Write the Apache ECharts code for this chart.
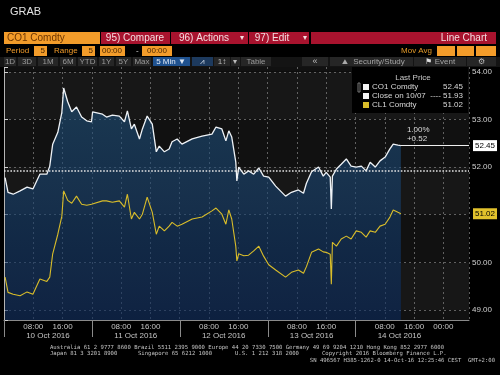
<!DOCTYPE html>
<html><head><meta charset="utf-8">
<script src="https://cdn.jsdelivr.net/npm/echarts@6/dist/echarts.min.js"></script>
<style>html,body{margin:0;padding:0;background:#000;}#c{width:500px;height:375px;}</style>
</head><body><div id="c"></div>
<script>
// hours since 10 Oct 2016 00:00 (CEST)
const hours = [0.3,1.1,2.5,4.4,6.3,7.9,9.8,11.7,12.5,13.3,
  14.7,15.8,16.3,17.4,18.5,19.8,21.2,22.6,23.9,24.2,
  26.9,28.0,29.6,31.5,32.9,33.7,34.8,35.6,37.0,37.8,
  39.1,40.5,41.6,42.4,43.8,45.1,45.9,47.3,48.6,51.4,
  54.1,56.8,57.9,59.5,60.6,61.4,62.2,63.3,63.6,64.1,
  65.5,66.8,68.2,69.6,70.9,72.3,74.2,76.9,78.5,80.4,
  81.8,82.6,84.0,85.9,87.2,88.0,89.1,89.4,89.7,90.8,
  92.1,93.5,94.8,96.2,97.6,98.9,100.0,101.4,102.7,104.1,
  105.4,106.3,107.6,108.4];
// CO1 Comdty (Brent)
const brent = [51.78,51.47,51.43,51.50,51.58,51.54,51.85,51.85,52.02,52.48,
  52.73,53.15,53.66,53.37,53.16,53.26,53.05,52.97,52.95,53.16,
  53.11,53.05,53.09,53.07,52.95,53.18,52.80,52.90,52.59,52.80,
  53.07,52.90,52.32,52.44,52.32,52.38,52.53,52.59,52.48,52.59,
  52.65,52.69,52.84,52.80,52.55,52.76,52.63,52.11,51.71,52.00,
  51.85,51.92,51.85,51.98,51.81,51.79,51.60,51.39,51.47,51.52,
  51.45,51.66,51.90,52.00,51.81,51.89,51.79,51.12,51.81,51.96,
  52.06,52.17,52.02,52.00,52.02,51.92,52.10,52.00,52.13,52.21,
  52.38,52.48,52.46,52.45];
// CL1 Comdty (WTI)
const wti = [49.69,49.37,49.33,49.30,49.38,49.33,49.65,49.60,49.69,50.18,
  50.59,50.97,51.50,51.30,51.24,51.39,51.22,51.20,51.22,51.24,
  51.29,51.29,51.26,51.29,51.16,51.43,50.91,51.05,50.91,51.01,
  51.37,51.05,50.59,50.76,50.66,50.76,50.84,50.76,50.80,50.91,
  50.95,51.08,51.14,51.01,50.80,51.10,50.91,50.34,50.03,50.18,
  50.14,50.15,50.24,50.34,50.13,49.95,49.84,49.69,49.79,49.84,
  49.77,49.91,50.21,50.28,50.22,50.21,50.17,49.54,50.42,50.34,
  50.49,50.55,50.49,50.66,50.63,50.53,50.66,50.63,50.76,50.80,
  50.95,51.10,51.05,51.02];
const prevClose = 51.93;
const prevCloseLabel = 'Close on 10/07';
const dayStarts = [0,24,48,72,96];
const dayLabels = ['10 Oct 2016','11 Oct 2016','12 Oct 2016','13 Oct 2016','14 Oct 2016'];
const hourLabels = {8:'08:00',16:'16:00'};
const endLabelHour = 120, endLabel = '00:00';
const xMin = 0, xMax = 127, yMin = 48.79, yMax = 54.1;

const lastH = hours[hours.length-1];
const lastB = brent[brent.length-1];
const lastW = wti[wti.length-1];
const chg = lastB - prevClose;
const pct = (chg/prevClose*100).toFixed(2)+'%';
const chgTxt = (chg>=0?'+':'')+chg.toFixed(2);

const FONT = '"Liberation Sans", Arial, sans-serif';
const ORANGE = '#f39c2a', RED = '#a8132e';
const NONE = 'rgba(0,0,0,0)';
const GRID = '#7c7c7c';
const els = [];
function rect(x,y,w,h,fill){els.push({type:'rect',z:100,silent:true,shape:{x:x,y:y,width:w,height:h},style:{fill:fill}});}
function txt(x,y,t,o){o=o||{};els.push({type:'text',z:101,silent:true,x:x,y:y,style:{text:t,fill:o.fill||'#c8c8c8',font:(o.size||8)+'px '+(o.family||FONT),textAlign:o.align||'left',textVerticalAlign:'middle'}});}

// header
txt(10,12,'GRAB',{size:11,fill:'#e2e2e2'});
rect(4,32,96,12,ORANGE); txt(7,38,'CO1 Comdty',{size:10,fill:'#6e3600'});
rect(101,32,69,12,RED); txt(135,38,'95) Compare',{size:10,fill:'#f3dde0',align:'center'});
rect(171,32,77,12,RED); txt(204,38,'96) Actions',{size:10,fill:'#f3dde0',align:'center'}); txt(240,38,'▾',{size:8,fill:'#f3dde0'});
rect(249,32,60,12,RED); txt(272,38,'97) Edit',{size:10,fill:'#f3dde0',align:'center'}); txt(303,38,'▾',{size:8,fill:'#f3dde0'});
rect(311,32,185,12,RED); txt(487,38,'Line Chart',{size:10,fill:'#f3dde0',align:'right'});
// row 2
txt(6,51,'Period',{fill:ORANGE}); rect(34,46,13,10,ORANGE); txt(45,51,'5',{fill:'#4a2600',align:'right'});
txt(54,51,'Range',{fill:ORANGE}); rect(82,46,13,10,ORANGE); txt(93,51,'5',{fill:'#4a2600',align:'right'});
rect(100,46,25,10,ORANGE); txt(112,51,'00:00',{fill:'#4a2600',align:'center'});
txt(136,51,'-',{fill:'#ddd'});
rect(142,46,30,10,ORANGE); txt(157,51,'00:00',{fill:'#4a2600',align:'center'});
txt(432,51,'Mov Avg',{fill:'#e39a28',align:'right'});
rect(437,46,18,10,ORANGE); rect(457,46,17,10,ORANGE); rect(476,46,20,10,ORANGE);
// row 3 toolbar
rect(0,57,500,10,'#141414');
[[4,16,'1D'],[18,36,'3D'],[38,58,'1M'],[60,76,'6M'],[78,97,'YTD'],[99,114,'1Y'],[116,131,'5Y'],[133,151,'Max']].forEach(b=>{
  rect(b[0],57,b[1]-b[0],9,'#262626'); txt((b[0]+b[1])/2,62,b[2],{fill:'#9a9a9a',align:'center'});
});
rect(153,57,37,9,'#1f5290'); txt(171,62,'5 Min ▼',{fill:'#dfe8f5',align:'center'});
rect(192,57,21,9,'#1d3a5e'); txt(202,62,'⩘',{fill:'#cfd8e6',align:'center'});
rect(214,57,16,9,'#262626'); txt(222,62,'1↕',{fill:'#bbb',align:'center'});
rect(231,57,9,9,'#262626'); txt(235,62,'▾',{fill:'#bbb',align:'center'});
rect(241,57,30,9,'#262626'); txt(256,62,'Table',{fill:'#9a9a9a',align:'center'});
rect(302,57,26,9,'#262626'); txt(315,62,'«',{fill:'#bbb',align:'center',size:9});
rect(330,57,83,9,'#262626'); txt(345,62,'⛰',{fill:'#aaa',align:'center',size:7}); txt(379,62,'Security/Study',{fill:'#a5a5a5',align:'center'});
rect(414,57,52,9,'#262626'); txt(428,62,'⚑',{fill:'#ddd',align:'center'}); txt(445,62,'Event',{fill:'#a5a5a5',align:'center'});
rect(467,57,29,9,'#262626'); txt(481,62,'⚙',{fill:'#bbb',align:'center'});
// legend box
rect(352,67,116,46,'#000');
txt(413,78,'Last Price',{fill:'#c8c8c8',align:'center'});
rect(363,84,6,6,'#f4f4f4'); txt(372,87,'CO1 Comdty',{fill:'#d8d8d8'}); txt(463,87,lastB.toFixed(2),{fill:'#d8d8d8',align:'right'});
rect(363,93,6,6,'#f4f4f4'); txt(372,96,prevCloseLabel+'  ----',{fill:'#d8d8d8'}); txt(463,96,prevClose.toFixed(2),{fill:'#d8d8d8',align:'right'});
rect(363,102,6,6,'#d9bd2a'); txt(372,105,'CL1 Comdty',{fill:'#d8d8d8'}); txt(463,105,lastW.toFixed(2),{fill:'#d8d8d8',align:'right'});
els.push({type:'rect',z:101,silent:true,shape:{x:358,y:83,width:2,height:9},style:{fill:'none',stroke:'#777',lineWidth:1}});
// footer
const MONO = '"DejaVu Sans Mono", monospace';
txt(50,348,'Australia 61 2 9777 8600 Brazil 5511 2395 9000 Europe 44 20 7330 7500 Germany 49 69 9204 1210 Hong Kong 852 2977 6000',{size:5.6,family:MONO,fill:'#c4c4c4'});
txt(50,354,'Japan 81 3 3201 8900',{size:5.6,family:MONO,fill:'#c4c4c4'});
txt(138,354,'Singapore 65 6212 1000',{size:5.6,family:MONO,fill:'#c4c4c4'});
txt(235,354,'U.S. 1 212 318 2000',{size:5.6,family:MONO,fill:'#c4c4c4'});
txt(322,354,'Copyright 2016 Bloomberg Finance L.P.',{size:5.6,family:MONO,fill:'#c4c4c4'});
txt(495,361,'SN 496567 H385-1262-0 14-Oct-16 12:25:46 CEST  GMT+2:00',{size:5.6,family:MONO,fill:'#c4c4c4',align:'right'});

const chart = echarts.init(document.getElementById('c'), null, {renderer:'canvas'});
chart.setOption({
  backgroundColor:'#000',
  animation:false,
  grid:{left:4,right:31,top:67,bottom:55},
  xAxis:{type:'value',min:xMin,max:xMax,interval:8,
    axisLine:{show:true,lineStyle:{color:'#8a8a8a'}},
    axisTick:{show:false},
    axisLabel:{color:'#c4c4c4',fontSize:8,fontFamily:'Liberation Sans',margin:3,
      formatter:v=>{ if(v===endLabelHour) return endLabel; const m=((v%24)+24)%24; return hourLabels[m]||''; }},
    splitLine:{show:true,lineStyle:{color:GRID,type:[2,3],width:1,opacity:0.75}}},
  yAxis:{type:'value',position:'right',min:yMin,max:yMax,splitNumber:5,
    axisLine:{show:true,lineStyle:{color:'#b4b4b4'}},
    axisTick:{show:true,length:4,lineStyle:{color:'#cfcfcf'}},
    axisLabel:{color:'#cfcfcf',fontSize:8,fontFamily:'Liberation Sans',margin:3,showMinLabel:true,showMaxLabel:true,
      formatter:v=>{ if(Math.abs(v-Math.round(v))>1e-6) return ''; if(Math.abs(v-lastW)<0.2||Math.abs(v-lastB)<0.2) return ''; return v.toFixed(2);} },
    splitLine:{show:true,showMinLine:false,showMaxLine:false,lineStyle:{color:GRID,type:[2,3],width:1,opacity:0.75}},
    splitArea:{show:true,areaStyle:{color:['#111111','#171717']}}},
  series:[
    {name:'CO1 Comdty',type:'line',data:hours.map((h,i)=>[h,brent[i]]),showSymbol:false,symbol:'none',clip:false,z:3,
      lineStyle:{color:'#eef2f6',width:1.3},
      areaStyle:{origin:'start',color:new echarts.graphic.LinearGradient(0,0,0,1,[{offset:0,color:'rgba(34,86,128,0.84)'},{offset:1,color:'rgba(10,42,94,0.86)'}])},
      markLine:{silent:true,symbol:['none','none'],animation:false,data:[
        {yAxis:prevClose,lineStyle:{color:'#e4e4e4',type:'dotted',width:1.6},label:{show:false}},
        [{coord:[lastH,lastB],lineStyle:{color:'#f0f0f0',type:'solid',width:1},
          label:{show:true,position:'end',formatter:lastB.toFixed(2),backgroundColor:'#ffffff',color:'#000',fontSize:8,fontFamily:'Liberation Sans',padding:[2,2,1,2],distance:4}},
         {coord:[xMax,lastB]}],
        [{coord:[lastH,lastB],lineStyle:{color:NONE,width:1},
          label:{show:true,position:'insideStartTop',formatter:pct+'\n'+chgTxt,color:'#dcdcdc',fontSize:8,lineHeight:9,fontFamily:'Liberation Sans',distance:[6,2]}},
         {coord:[xMax,lastB]}]
      ]}},
    {name:'CL1 Comdty',type:'line',data:hours.map((h,i)=>[h,wti[i]]),showSymbol:false,symbol:'none',clip:false,z:4,
      lineStyle:{color:'#d9bd2a',width:1.1},
      markLine:{silent:true,symbol:['none','none'],animation:false,data:[
        [{coord:[lastH,lastW],lineStyle:{color:NONE,width:1},
          label:{show:true,position:'end',formatter:lastW.toFixed(2),backgroundColor:'#e2c22c',color:'#000',fontSize:8,fontFamily:'Liberation Sans',padding:[2,2,1,2],distance:4}},
         {coord:[xMax,lastW]}]
      ]}},
    {type:'custom',clip:false,z:5,silent:true,data:dayStarts.map(d=>[d,yMin]),
      renderItem:(params,api)=>{
        const i=params.dataIndex; const d=api.value(0);
        const p=api.coord([d,yMin]); const q=api.coord([d+12,yMin]);
        const x=Math.round(p[0])+0.5;
        return {type:'group',children:[
          {type:'line',shape:{x1:x,y1:p[1],x2:x,y2:p[1]+17},style:{stroke:'#8a8a8a',lineWidth:1}},
          {type:'text',x:q[0],y:p[1]+16,style:{text:dayLabels[i],fill:'#c4c4c4',font:'8px '+FONT,textAlign:'center',textVerticalAlign:'middle'}}
        ]};
      }}
  ],
  graphic:{elements:els}
});
</script></body></html>
